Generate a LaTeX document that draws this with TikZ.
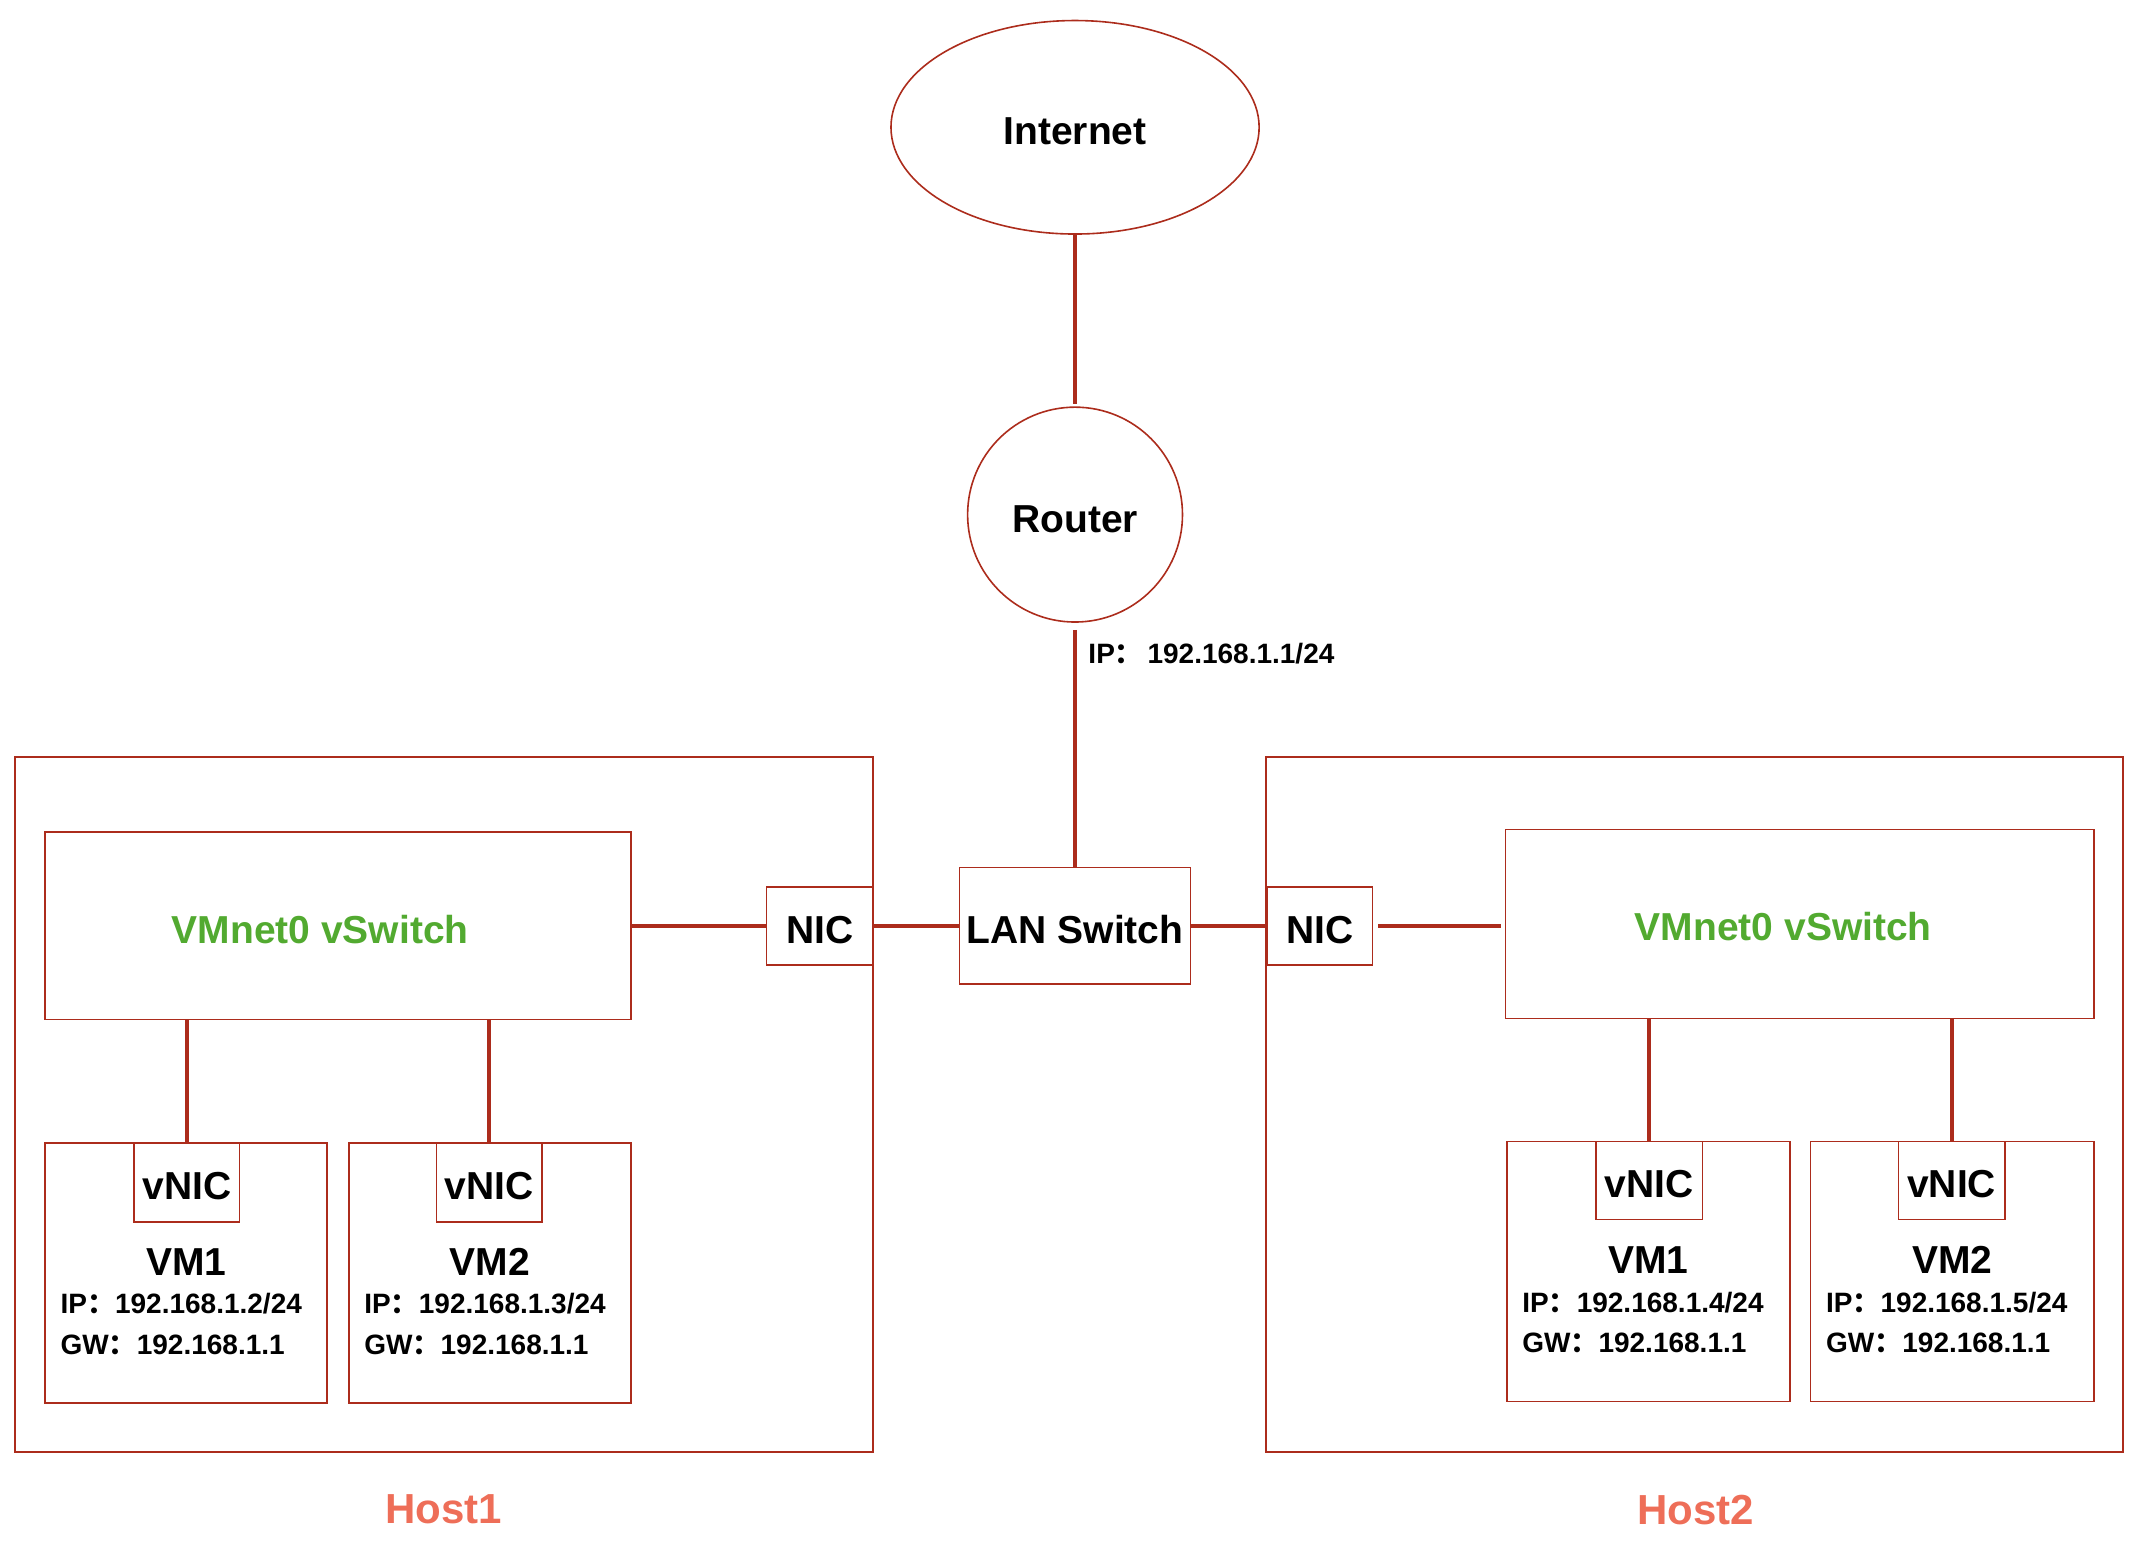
\documentclass[tikz,border=0pt]{standalone}
\usepackage{fontspec}
\setmainfont{Liberation Sans}
\newfontfamily\cjkfont{Noto Sans CJK SC}
\usetikzlibrary{shapes.geometric}
\definecolor{lnred}{RGB}{172,44,28}
\definecolor{vsgreen}{RGB}{82,170,48}
\definecolor{hostred}{RGB}{238,110,88}
\newcommand{\fcolon}{{\cjkfont ：}}
\begin{document}
\begin{tikzpicture}[x=0.6843pt,y=-0.6843pt,
  rbox/.style 2 args={draw=lnred, line width=0.75pt, inner sep=0pt,
    minimum width=#1*0.6843pt, minimum height=#2*0.6843pt},
  big/.style={font=\fontsize{19.5}{22}\selectfont\bfseries, text=black,
    text height=17.4pt, text depth=0pt},
  small/.style={font=\fontsize{14}{16}\selectfont\bfseries, text=black, inner sep=0pt, anchor=base west},
  vstext/.style={font=\fontsize{19.5}{22}\selectfont\bfseries, text=vsgreen, inner sep=0pt},
  hosttext/.style={font=\fontsize{21}{24}\selectfont\bfseries, text=hostred, inner sep=0pt},
  conn/.style={draw=lnred, line width=2pt}]
\useasboundingbox (0,0) rectangle (1568,1134);

% top
\node[ellipse, draw=lnred, line width=0.8pt, inner sep=0pt,
  minimum width=269*0.6843pt, minimum height=156*0.6843pt, big] (inet) at (785.5,93) {Internet};
\node[circle, draw=lnred, line width=0.8pt, inner sep=0pt,
  minimum size=157*0.6843pt, big] (router) at (785.5,376) {Router};
\node[rbox={169}{85}, big] (lan) at (785.5,676.5) {LAN Switch};
\node[small] (rip) at (795,485) {IP\fcolon\,192.168.1.1/24};

% hosts
\node[rbox={627}{508}] (host1) at (324.5,807) {};
\node[rbox={626}{508}] (host2) at (1238,807) {};
\node[hosttext] (h1lab) at (324,1103) {Host1};
\node[hosttext] (h2lab) at (1239,1103) {Host2};

\node[rbox={78}{57}, big] (nic1) at (599,676.5) {NIC};
\node[rbox={77}{57}, big] (nic2) at (964.5,676.5) {NIC};

\node[rbox={428}{137}] (vs1) at (247,676.5) {};
\node[vstext] (vs1t) at (234,679) {VMnet0 vSwitch};
\node[rbox={430}{138}] (vs2) at (1315,675) {};
\node[vstext] (vs2t) at (1303,677) {VMnet0 vSwitch};

% VMs host1
\node[rbox={206}{190}] (vm11) at (136,930) {};
\node[rbox={77}{58}, big] (vn11) at (136.5,864) {vNIC};
\node[big, inner sep=0pt] (vm11t) at (136,919) {VM1};
\node[small] (vm11ip) at (44,960) {IP\fcolon 192.168.1.2/24};
\node[small] (vm11gw) at (44,990) {GW\fcolon 192.168.1.1};

\node[rbox={206}{190}] (vm12) at (358,930) {};
\node[rbox={77}{58}, big] (vn12) at (357.5,864) {vNIC};
\node[big, inner sep=0pt] (vm12t) at (358,919) {VM2};
\node[small] (vm12ip) at (266,960) {IP\fcolon 192.168.1.3/24};
\node[small] (vm12gw) at (266,990) {GW\fcolon 192.168.1.1};

% VMs host2
\node[rbox={207}{190}] (vm21) at (1204.5,929) {};
\node[rbox={78}{57}, big] (vn21) at (1205,862.5) {vNIC};
\node[big, inner sep=0pt] (vm21t) at (1204.5,918) {VM1};
\node[small] (vm21ip) at (1112,959) {IP\fcolon 192.168.1.4/24};
\node[small] (vm21gw) at (1112,988) {GW\fcolon 192.168.1.1};

\node[rbox={207}{190}] (vm22) at (1426.5,929) {};
\node[rbox={78}{57}, big] (vn22) at (1426,862.5) {vNIC};
\node[big, inner sep=0pt] (vm22t) at (1426.5,918) {VM2};
\node[small] (vm22ip) at (1334,959) {IP\fcolon 192.168.1.5/24};
\node[small] (vm22gw) at (1334,988) {GW\fcolon 192.168.1.1};

% connectors
\draw[conn, shorten >=1pt] (inet.south) -- (router.north);
\draw[conn, shorten <=3.5pt] (router.south) -- (lan.north);
\draw[conn] (vs1.east |- nic1.west) -- (nic1.west);
\draw[conn] (nic1.east) -- (lan.west);
\draw[conn] (lan.east) -- (nic2.west);
\draw[conn, shorten <=2.5pt, shorten >=2pt] (nic2.east) -- (nic2.east -| vs2.west);
\draw[conn] (vn11.north) -- (vn11.north |- vs1.south);
\draw[conn] (vn12.north) -- (vn12.north |- vs1.south);
\draw[conn] (vn21.north) -- (vn21.north |- vs2.south);
\draw[conn] (vn22.north) -- (vn22.north |- vs2.south);
\end{tikzpicture}
\end{document}
